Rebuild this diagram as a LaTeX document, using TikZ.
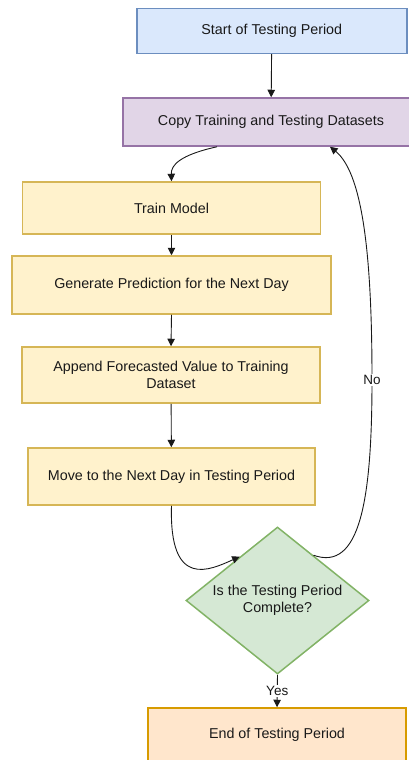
\documentclass[tikz,border=0pt]{standalone}
\usepackage{fontspec}
\setmainfont{Liberation Sans}
\usepackage{xcolor}
\usetikzlibrary{arrows.meta,shapes.geometric,calc}

\definecolor{startfill}{HTML}{DAE8FC}\definecolor{startline}{HTML}{6C8EBF}
\definecolor{copyfill}{HTML}{E1D5E7}\definecolor{copyline}{HTML}{9673A6}
\definecolor{stepfill}{HTML}{FFF2CC}\definecolor{stepline}{HTML}{D6B656}
\definecolor{testfill}{HTML}{D5E8D4}\definecolor{testline}{HTML}{82B366}
\definecolor{endfill}{HTML}{FFE6CC}\definecolor{endline}{HTML}{D79B00}

\begin{document}
\begin{tikzpicture}[x=1pt,y=-1pt,
  box/.style={draw,rectangle,line width=1.5pt,inner sep=0pt,align=center,
    text=black!90,font=\fontsize{14.3}{17}\selectfont},
  flow/.style={-{Triangle[length=7.5pt,width=7.5pt]},line width=0.9pt,black!90},
  lbl/.style={fill=white,inner sep=1pt,text=black!90,font=\fontsize{13.5}{15}\selectfont}]
\useasboundingbox (0,0) rectangle (409,760);
\clip (0,0) rectangle (409,760);

\node[box,fill=startfill,draw=startline,minimum width=270pt,minimum height=45pt] (start) at (271.8,30.8) {Start of Testing Period};
\node[box,fill=copyfill,draw=copyline,minimum width=296pt,minimum height=48pt] (copy) at (271,122) {Copy Training and Testing Datasets};
\node[box,fill=stepfill,draw=stepline,minimum width=298pt,minimum height=52pt] (train) at (171.5,208) {Train Model};
\node[box,fill=stepfill,draw=stepline,minimum width=319pt,minimum height=58pt] (predict) at (171.5,285) {Generate Prediction for the Next Day};
\node[box,fill=stepfill,draw=stepline,minimum width=298pt,minimum height=56pt] (append) at (171,375) {Append Forecasted Value to Training\\Dataset};
\node[box,fill=stepfill,draw=stepline,minimum width=287pt,minimum height=57pt] (nextday) at (171.5,476.5) {Move to the Next Day in Testing Period};
\node[box,diamond,aspect=1.245,fill=testfill,draw=testline,minimum width=183pt,minimum height=147pt] (done) at (277.5,600.5) {Is the Testing Period\\Complete?};
\node[box,fill=endfill,draw=endline,minimum width=258pt,minimum height=53pt] (stop) at (277,734.5) {End of Testing Period};

\draw[flow] (start) -- (copy);
\draw[flow] ([xshift=-54pt]copy.south) .. controls (180,155) and (171,165) .. (train.north);
\draw[flow] (train) -- (predict);
\draw[flow] (predict.south) -- (append.north);
\draw[flow] (append) -- (nextday);
\draw[flow] (nextday.south) .. controls (169,590) and (210,570) .. ($(done.west)!0.59!(done.north)$);
\draw[flow] ($(done.north)!0.39!(done.east)$) .. controls (360,572) and (372,500) .. (372,380)
  .. controls (372,270) and (365,175) .. ([xshift=59pt]copy.south);
\node[lbl] (no) at (372,380) {No};
\draw[flow] (done.south) -- (stop.north) node[lbl,midway] (yes) {Yes};
\end{tikzpicture}
\end{document}
